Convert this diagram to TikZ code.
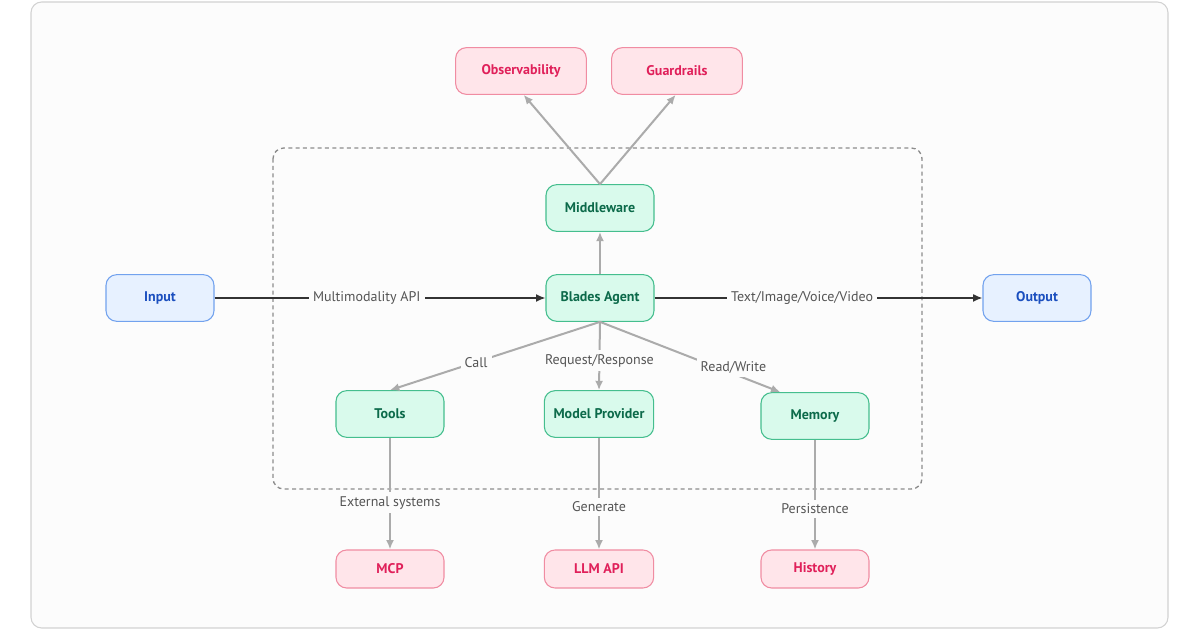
\documentclass[tikz,border=0pt]{standalone}
\usepackage{fontspec}
\setmainfont{PT Sans}
\usetikzlibrary{arrows.meta, backgrounds}

\definecolor{redfill}{HTML}{FFE5EA}
\definecolor{redline}{HTML}{F08CA2}
\definecolor{redtext}{HTML}{E0205A}
\definecolor{greenfill}{HTML}{D9FAEC}
\definecolor{greenline}{HTML}{45BE8E}
\definecolor{greentext}{HTML}{0C6A4A}
\definecolor{bluefill}{HTML}{E7F1FF}
\definecolor{blueline}{HTML}{72A2EE}
\definecolor{bluetext}{HTML}{1B4FBF}
\definecolor{framebg}{HTML}{FCFCFC}
\definecolor{frameline}{HTML}{D2D2D2}
\definecolor{lblgray}{HTML}{555555}
\definecolor{arrgray}{HTML}{ABABAB}
\definecolor{arrdark}{HTML}{333333}

\begin{document}
\begin{tikzpicture}[
				x=0.75pt, y=-0.75pt,
				box/.style={draw, rounded corners=8pt, line width=0.8pt, minimum width=81pt, minimum height=35pt, font=\fontsize{10.5}{12}\selectfont\bfseries},
				redbox/.style={box, fill=redfill, draw=redline, text=redtext},
				greenbox/.style={box, fill=greenfill, draw=greenline, text=greentext},
				bluebox/.style={box, fill=bluefill, draw=blueline, text=bluetext},
				topbox/.style={redbox, minimum width=98pt},
				lowbox/.style={redbox, minimum height=28.5pt},
				lbl/.style={fill=framebg, text=lblgray, inner sep=3pt, font=\fontsize{10.5}{12}\selectfont},
				garrow/.style={draw=arrgray, line width=1.5pt, -{Latex[length=7pt, width=6pt]}},
				darrow/.style={draw=arrdark, line width=1.2pt, -{Latex[length=7pt, width=6pt]}},
				]
				
				\useasboundingbox (0,0) rectangle (1200,630);
				
				%% ── Agent and its parts ────────────────────────────────────────────
				\node[greenbox] (mw)    at (600,208) {Middleware};
				\node[greenbox] (agent) at (600,298) {Blades Agent};
				\node[greenbox] (tools) at (390,414) {Tools};
				\node[greenbox, minimum width=82pt] (mp) at (599,414) {Model Provider};
				\node[greenbox] (mem)   at (815,416) {Memory};
				
				\begin{scope}[on background layer]
					\draw[fill=framebg, draw=frameline, line width=0.8pt, rounded corners=8pt] (31,2) rectangle (1168,628);
					\draw[draw=gray!90, line width=1pt, dash pattern=on 3pt off 2.5pt, rounded corners=8pt] (273,148) rectangle (922,489);
				\end{scope}
				
				%% ── Outside ────────────────────────────────────────────────────────
				\node[topbox]  (obs)  at (521,71)  {Observability};
				\node[topbox]  (gr)   at (677,71)  {Guardrails};
				\node[bluebox] (in)   at (160,298) {Input};
				\node[bluebox] (out)  at (1037,298) {Output};
				\node[lowbox]  (mcp)  at (390,569) {MCP};
				\node[lowbox, minimum width=82pt] (llm) at (599,569) {LLM API};
				\node[lowbox]  (hist) at (815,569) {History};
				
				%% ── Connectors ─────────────────────────────────────────────────────
				\draw[garrow] (mw.north) -- ([xshift=2pt]obs.south);
				\draw[garrow] (mw.north) -- ([xshift=-1pt]gr.south);
				\draw[garrow] (agent.north) -- (mw.south);
				
				\draw[darrow] (in) -- node[lbl, pos=0.46] {Multimodality API} (agent);
				\draw[darrow] (agent) -- node[lbl, pos=0.45] {Text/Image/Voice/Video} (out);
				
				\draw[garrow] (agent.south) -- node[lbl, pos=0.59] {Call} (tools.north);
				\draw[garrow] (agent.south) -- node[lbl, pos=0.57] {Request/Response} (mp.north);
				\draw[garrow] (agent.south) -- node[lbl, pos=0.74, yshift=5pt] {Read/Write} ([xshift=-26pt]mem.north);
				
				\draw[garrow] (tools) -- node[lbl, pos=0.58] {External systems} (mcp);
				\draw[garrow] (mp) -- node[lbl, pos=0.62] {Generate} (llm);
				\draw[garrow] (mem) -- node[lbl, pos=0.63] {Persistence} (hist);
				
			\end{tikzpicture}
\end{document}
